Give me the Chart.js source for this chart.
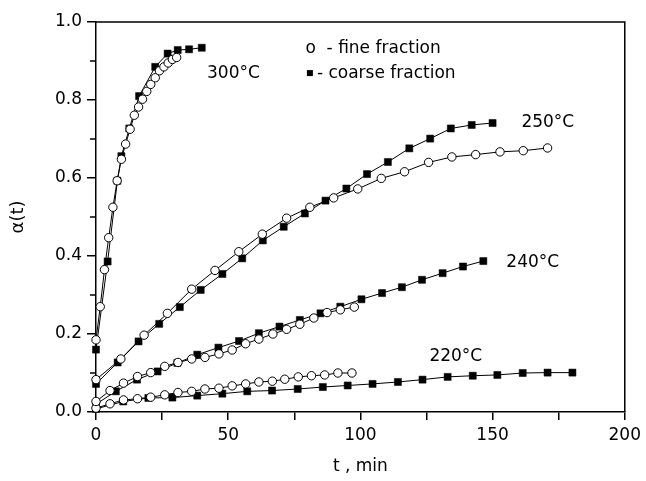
<!DOCTYPE html>
<html><head><meta charset="utf-8">
<script src="https://cdn.jsdelivr.net/npm/chart.js@4"></script>
<style>html,body{margin:0;padding:0;background:#fff}canvas{display:block}</style>
</head><body>
<canvas id="c" width="646" height="481"></canvas>
<script>
// ---- data ----
const t300Fine   = [0, 1.6, 3.2, 4.8, 6.4, 8.0, 9.6, 11.2, 12.9, 14.5, 16.1, 17.6, 19.2, 20.7, 22.4, 24.0, 25.7, 27.3, 28.9, 30.5];
const a300Fine   = [0.185, 0.27, 0.365, 0.447, 0.525, 0.593, 0.648, 0.687, 0.725, 0.761, 0.782, 0.802, 0.822, 0.84, 0.857, 0.875, 0.885, 0.895, 0.904, 0.909];
const t300Coarse = [0, 4.4, 8.1, 9.6, 12.6, 16.3, 22.4, 27.1, 30.9, 35.2, 40.0];
const a300Coarse = [0.16, 0.386, 0.593, 0.656, 0.727, 0.81, 0.885, 0.919, 0.928, 0.93, 0.934];

const t250Fine   = [0, 9.4, 18.2, 27.0, 36.2, 45.0, 54.0, 62.9, 72.1, 80.9, 89.9, 99.0, 107.9, 116.7, 125.8, 134.6, 143.6, 152.8, 161.6, 170.8];
const a250Fine   = [0.083, 0.136, 0.197, 0.253, 0.315, 0.363, 0.411, 0.456, 0.497, 0.525, 0.549, 0.572, 0.599, 0.616, 0.64, 0.654, 0.66, 0.667, 0.67, 0.677];
const t250Coarse = [0, 8.2, 16.1, 23.9, 31.7, 39.6, 47.8, 55.3, 63.1, 71.0, 79.0, 86.8, 94.7, 102.5, 110.4, 118.5, 126.4, 134.2, 142.1, 150.0];
const a250Coarse = [0.072, 0.127, 0.181, 0.226, 0.269, 0.313, 0.354, 0.394, 0.44, 0.475, 0.509, 0.542, 0.573, 0.61, 0.641, 0.676, 0.701, 0.727, 0.736, 0.741];

const t240Fine   = [0, 5.3, 10.4, 15.7, 20.7, 26.0, 31.0, 36.2, 41.2, 46.5, 51.5, 56.6, 61.6, 66.9, 72.1, 77.1, 82.4, 87.4, 92.4, 97.7];
const a240Fine   = [0.027, 0.055, 0.074, 0.091, 0.101, 0.117, 0.127, 0.136, 0.14, 0.149, 0.159, 0.175, 0.187, 0.2, 0.212, 0.225, 0.241, 0.255, 0.262, 0.269];
const t240Coarse = [0, 7.5, 15.5, 23.3, 30.8, 38.3, 46.3, 54.1, 61.6, 69.4, 77.1, 84.9, 92.4, 100.4, 108.2, 115.7, 123.3, 131.1, 138.8, 146.5];
const a240Coarse = [0.02, 0.053, 0.083, 0.104, 0.126, 0.147, 0.165, 0.182, 0.202, 0.219, 0.236, 0.253, 0.27, 0.289, 0.305, 0.32, 0.339, 0.356, 0.373, 0.387];

const t220Fine   = [0, 5.3, 10.4, 15.7, 20.7, 26.0, 31.0, 36.2, 41.2, 46.5, 51.5, 56.6, 61.6, 66.7, 71.4, 76.5, 81.5, 86.5, 91.5, 96.8];
const a220Fine   = [0.01, 0.021, 0.031, 0.034, 0.038, 0.044, 0.05, 0.053, 0.059, 0.061, 0.067, 0.072, 0.077, 0.079, 0.084, 0.09, 0.093, 0.095, 0.1, 0.1];
const t220Coarse = [0, 10.3, 19.8, 28.9, 38.3, 47.8, 57.2, 66.6, 76.3, 85.8, 95.2, 104.6, 114.2, 123.5, 133.0, 142.5, 151.8, 161.4, 170.8, 180.2];
const a220Coarse = [0.008, 0.027, 0.036, 0.037, 0.042, 0.047, 0.053, 0.055, 0.059, 0.064, 0.068, 0.072, 0.077, 0.083, 0.09, 0.093, 0.095, 0.1, 0.101, 0.101];

const xTickLabels = ['0', '50', '100', '150', '200'];
const yTickLabels = ['0.0', '0.2', '0.4', '0.6', '0.8', '1.0'];
const xTitle = 't , min';
const yTitle = 'α(t)';
const tempLabels = ['300°C', '250°C', '240°C', '220°C'];
const tempLabelAt = [[42, 0.869], [160.9, 0.743], [155.2, 0.382], [126.1, 0.142]];
const legendFineText = 'o  - fine fraction';
const legendCoarseText = '- coarse fraction';
const legendAt = [[79.2, 0.933], [80.9, 0.869]];

// ---- build ----
const pts = (t, a) => t.map((v, i) => ({x: v, y: a[i]}));
const FONT = '"DejaVu Sans", sans-serif';
Chart.defaults.font.family = FONT;
Chart.defaults.font.size = 17;
Chart.defaults.color = '#000';

const fineStyle = {showLine: true, clip: false, borderColor: '#000', borderWidth: 1, pointStyle: 'circle', pointRadius: 4.2,
  pointBackgroundColor: '#fff', pointBorderColor: '#000', pointBorderWidth: 1, pointHoverRadius: 4.2};
const coarseStyle = {showLine: true, clip: false, borderColor: '#000', borderWidth: 1, pointStyle: 'rect', pointRadius: 5,
  pointBackgroundColor: '#000', pointBorderColor: '#000', pointBorderWidth: 0.5, pointHoverRadius: 5};

const datasets = [
  Object.assign({label: '300 fine', data: pts(t300Fine, a300Fine)}, fineStyle),
  Object.assign({label: '250 fine', data: pts(t250Fine, a250Fine)}, fineStyle),
  Object.assign({label: '240 fine', data: pts(t240Fine, a240Fine)}, fineStyle),
  Object.assign({label: '220 fine', data: pts(t220Fine, a220Fine)}, fineStyle),
  Object.assign({label: '300 coarse', data: pts(t300Coarse, a300Coarse)}, coarseStyle),
  Object.assign({label: '250 coarse', data: pts(t250Coarse, a250Coarse)}, coarseStyle),
  Object.assign({label: '240 coarse', data: pts(t240Coarse, a240Coarse)}, coarseStyle),
  Object.assign({label: '220 coarse', data: pts(t220Coarse, a220Coarse)}, coarseStyle),
];

const decor = {
  id: 'decor',
  afterDraw(chart) {
    const {ctx, chartArea: ca, scales: {x, y}} = chart;
    ctx.save();
    ctx.strokeStyle = '#000';
    ctx.lineWidth = 1.5;
    // top and right frame
    ctx.beginPath();
    ctx.moveTo(ca.left, ca.top); ctx.lineTo(ca.right, ca.top); ctx.lineTo(ca.right, ca.bottom);
    ctx.stroke();
    // minor y ticks
    ctx.beginPath();
    for (let k = 1; k < 10; k += 2) {
      const py = y.getPixelForValue(k / 10);
      ctx.moveTo(ca.left, py); ctx.lineTo(ca.left - 6, py);
    }
    ctx.stroke();
    // temperature labels
    ctx.fillStyle = '#000';
    ctx.font = '17px ' + FONT;
    ctx.textAlign = 'left';
    ctx.textBaseline = 'middle';
    tempLabels.forEach((s, i) => {
      ctx.fillText(s, x.getPixelForValue(tempLabelAt[i][0]), y.getPixelForValue(tempLabelAt[i][1]));
    });
    // legend
    const lx0 = x.getPixelForValue(legendAt[0][0]), ly0 = y.getPixelForValue(legendAt[0][1]);
    ctx.fillText(legendFineText, lx0, ly0);
    const lx1 = x.getPixelForValue(legendAt[1][0]), ly1 = y.getPixelForValue(legendAt[1][1]);
    ctx.fillRect(lx1 - 3, ly1 - 3, 6, 6);
    ctx.fillText(legendCoarseText, lx1 + 7, ly1);
    ctx.restore();
  }
};

new Chart(document.getElementById('c'), {
  type: 'scatter',
  data: {datasets},
  plugins: [decor],
  options: {
    responsive: false,
    animation: false,
    devicePixelRatio: 1,
    layout: {padding: {top: 22, right: 19, left: 0, bottom: 0}},
    plugins: {legend: {display: false}, tooltip: {enabled: false}},
    scales: {
      x: {
        type: 'linear', min: 0, max: 200,
        afterFit(s) { s.height = 69; },
        ticks: {stepSize: 25, padding: 5, maxRotation: 0, autoSkip: false,
          callback: v => (v % 50 === 0 ? xTickLabels[v / 50] : '')},
        grid: {display: true, drawOnChartArea: false, drawTicks: true, tickLength: 8, color: '#000', lineWidth: 1.5},
        border: {display: true, color: '#000', width: 1.5},
        title: {display: true, text: xTitle, font: {size: 17}, padding: {top: 0, bottom: 4}}
      },
      y: {
        type: 'linear', min: 0, max: 1,
        afterFit(s) { s.width = 96; },
        ticks: {stepSize: 0.2, padding: 5, autoSkip: false,
          callback: v => yTickLabels[Math.round(v * 5)]},
        grid: {display: true, drawOnChartArea: false, drawTicks: true, tickLength: 9, color: '#000', lineWidth: 1.5},
        border: {display: true, color: '#000', width: 1.5},
        title: {display: true, text: yTitle, font: {size: 18}, padding: {top: 8, bottom: 0}}
      }
    }
  }
});
</script>
</body></html>
